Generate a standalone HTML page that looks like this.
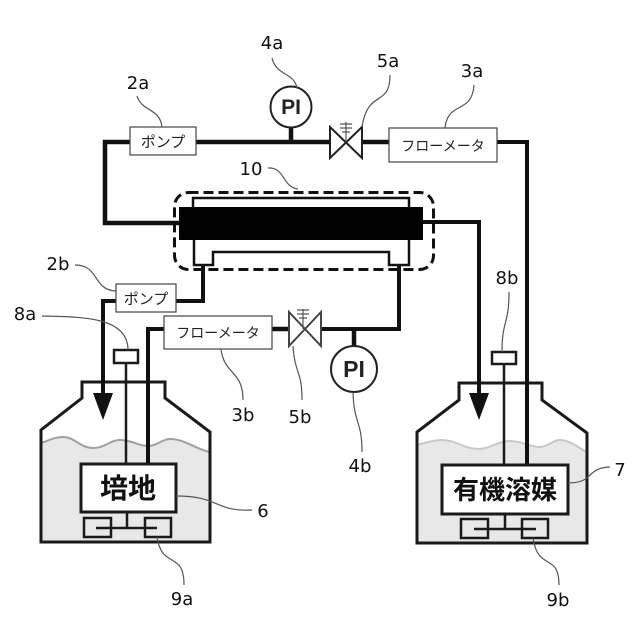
<!DOCTYPE html>
<html><head><meta charset="utf-8"><style>
html,body{margin:0;padding:0;background:#fff}
svg{display:block}
.l{font:18px "DejaVu Sans",sans-serif;fill:#111;text-anchor:middle}
.k{font:400 15px "Noto Sans CJK JP",sans-serif;fill:#222;text-anchor:middle}
.b{font:700 28px "Liberation Sans","Noto Sans CJK JP",sans-serif;fill:#111;text-anchor:middle}
.p{font-family:"Liberation Sans",sans-serif;font-weight:700;fill:#222;text-anchor:middle}
</style></head><body>
<svg width="640" height="640" viewBox="0 0 640 640" xmlns="http://www.w3.org/2000/svg">
<rect width="640" height="640" fill="#fff"/>
<!-- left bottle -->
<path d="M41 443C50 440 55 437 63 437C75 437 80 448 93 448C105 448 110 440 120 440C132 440 138 446 148 446C157 446 162 439 170 439C185 439 197 450 210 452V542H41Z" fill="#e8e8e8"/>
<path d="M41 443C50 440 55 437 63 437C75 437 80 448 93 448C105 448 110 440 120 440C132 440 138 446 148 446C157 446 162 439 170 439C185 439 197 450 210 452" fill="none" stroke="#a0a0a0" stroke-width="2"/>
<path d="M82 398V382H165V398L210 432V542H41V430Z" fill="none" stroke="#1a1a1a" stroke-width="3"/>
<!-- right bottle -->
<path d="M417 445C428 442 435 440 442 440C455 440 465 449 478 449C490 449 498 441 510 441C522 441 530 447 540 447C548 447 552 440 560 440C570 440 580 449 587 452V543H417Z" fill="#e8e8e8"/>
<path d="M417 445C428 442 435 440 442 440C455 440 465 449 478 449C490 449 498 441 510 441C522 441 530 447 540 447C548 447 552 440 560 440C570 440 580 449 587 452" fill="none" stroke="#c8c8c8" stroke-width="2"/>
<path d="M459 400V383H542V400L587 433V543H417V432Z" fill="none" stroke="#1a1a1a" stroke-width="3"/>
<!-- thick pipes -->
<g fill="none" stroke="#111" stroke-width="4.5">
<path d="M179 223H105V142H330"/>
<path d="M291 142V125"/>
<path d="M362 142H389"/>
<path d="M497 142H527V465" stroke-width="4"/>
<path d="M423 222H479V395" stroke-width="4"/>
<path d="M203 266V301H103V395" stroke-width="4"/>
<path d="M164 329H148V464" stroke-width="4"/>
<path d="M272 329H289"/>
<path d="M321 329H399V266" stroke-width="4"/>
<path d="M354 329V348"/>
</g>
<path d="M93 393H113L103 420Z" fill="#111"/>
<path d="M469 393H489L479 420Z" fill="#111"/>
<!-- sensors -->
<g fill="#fff" stroke="#1a1a1a" stroke-width="2.5">
<path d="M126 363V464M504 364V465" fill="none"/>
<rect x="114" y="350" width="24" height="13"/>
<rect x="492" y="352" width="24" height="12"/>
</g>
<!-- module -->
<g fill="none" stroke="#111" stroke-width="2.5">
<path d="M193 207V198H409V207"/>
<path d="M194 240V265H213V252H389V265H409V240"/>
</g>
<rect x="179" y="207" width="244" height="33" fill="#000"/>
<rect x="174.500" y="192.500" width="259" height="77" rx="14" fill="none" stroke="#111" stroke-width="3" stroke-dasharray="10 5"/>
<!-- pumps, flowmeters -->
<g fill="#fff" stroke="#444" stroke-width="1.200">
<rect x="130" y="127" width="66" height="28"/>
<rect x="389" y="128" width="108" height="34"/>
<rect x="116" y="284" width="60" height="28"/>
<rect x="164" y="316" width="108" height="33"/>
</g>
<text class="k" x="163" y="147">ポンプ</text>
<text class="k" x="443" y="151" style="font-size:14px">フローメータ</text>
<text class="k" x="146" y="304">ポンプ</text>
<text class="k" x="218" y="338" style="font-size:14px">フローメータ</text>
<!-- PI -->
<g fill="#fff" stroke="#222" stroke-width="2">
<circle cx="291" cy="107" r="20.500"/>
<circle cx="354" cy="369" r="23"/>
</g>
<text class="p" x="291" y="114" style="font-size:21px">PI</text>
<text class="p" x="354" y="377" style="font-size:23px">PI</text>
<!-- valves -->
<g fill="#fff" stroke="#222" stroke-width="2">
<path d="M330 127V158L362 127V158Z"/>
<path d="M289 312V346L321 312V346Z" stroke="#444"/>
</g>
<g stroke="#555" stroke-width="1.200" fill="none">
<path d="M346 142V122M340 124H352M340 128H352M342 132H350"/>
<path d="M303 329V309M297 310H309M297 314H309M299 318H307"/>
</g>
<!-- tanks inner boxes -->
<g fill="#fff" stroke="#1a1a1a" stroke-width="3">
<rect x="81" y="464" width="95" height="48"/>
<rect x="442" y="465" width="126" height="49"/>
</g>
<text class="b" x="128" y="498">培地</text>
<text class="b" x="505" y="499" style="font-size:26px">有機溶媒</text>
<!-- stirrers -->
<g fill="none" stroke="#1a1a1a" stroke-width="2.500">
<rect x="84" y="518" width="27" height="19"/>
<rect x="145" y="518" width="26" height="19"/>
<path d="M127 512V528M96 528H157"/>
<rect x="461" y="519" width="27" height="19"/>
<rect x="522" y="519" width="26" height="19"/>
<path d="M505 514V529M474 529H536"/>
</g>
<!-- leaders -->
<g fill="none" stroke="#555" stroke-width="1.200">
<path d="M137 96C142 112 160 108 162 127"/>
<path d="M272 58C276 76 294 72 297 88"/>
<path d="M268 168C285 167 282 187 298 189"/>
<path d="M390 75C390 108 368 88 362 127"/>
<path d="M474 85C472 115 448 100 445 128"/>
<path d="M75 265C100 265 92 290 116 291"/>
<path d="M42 316C80 317 128 316 128 350"/>
<path d="M221 349C224 375 243 370 243 400"/>
<path d="M293 346C295 375 302 370 302 400"/>
<path d="M353 392C354 425 362 420 362 452"/>
<path d="M509 292C509 325 502 320 502 352"/>
<path d="M176 496C220 496 215 512 252 510"/>
<path d="M157 537C162 570 184 550 184 585"/>
<path d="M568 483C595 483 585 468 610 467"/>
<path d="M533 538C538 572 559 552 559 585"/>
</g>
<!-- labels -->
<text class="l" x="138" y="89">2a</text>
<text class="l" x="272" y="49">4a</text>
<text class="l" x="251" y="175">10</text>
<text class="l" x="388" y="67">5a</text>
<text class="l" x="472" y="77">3a</text>
<text class="l" x="58" y="270">2b</text>
<text class="l" x="25" y="320">8a</text>
<text class="l" x="243" y="421">3b</text>
<text class="l" x="300" y="423">5b</text>
<text class="l" x="360" y="472">4b</text>
<text class="l" x="507" y="284">8b</text>
<text class="l" x="263" y="517">6</text>
<text class="l" x="182" y="605">9a</text>
<text class="l" x="620" y="476">7</text>
<text class="l" x="558" y="606">9b</text>
</svg>
</body></html>
